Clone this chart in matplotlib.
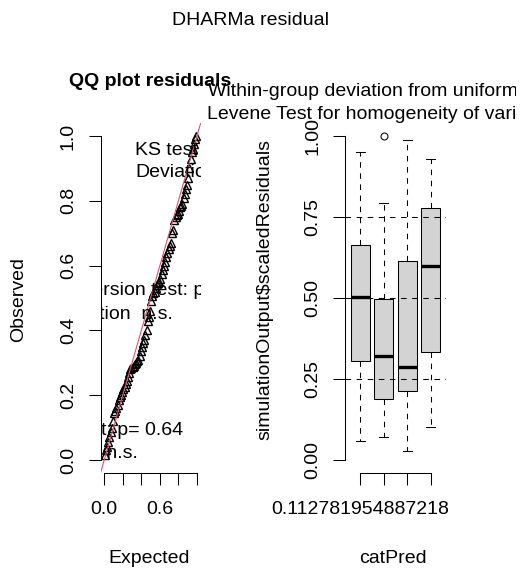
import matplotlib
matplotlib.use('Agg')
import matplotlib.pyplot as plt
import numpy as np
from matplotlib.transforms import Bbox, TransformedBbox

plt.rcParams['font.family'] = ['Liberation Sans', 'DejaVu Sans']
plt.rcParams['lines.scale_dashes'] = False

# ---------------- data ----------------
observed = [0.015, 0.03, 0.04, 0.055, 0.07, 0.085, 0.10, 0.12,
            0.145, 0.15, 0.16, 0.17, 0.185, 0.195, 0.20, 0.21,
            0.22, 0.225, 0.235, 0.245, 0.255, 0.27, 0.28, 0.285,
            0.287, 0.29, 0.295, 0.30, 0.305, 0.31, 0.32, 0.335,
            0.35, 0.36, 0.37, 0.385, 0.40, 0.43, 0.44, 0.46,
            0.49, 0.505, 0.515, 0.52, 0.53, 0.54, 0.545, 0.55,
            0.56, 0.575, 0.585, 0.60, 0.61, 0.625, 0.64, 0.65,
            0.66, 0.67, 0.70, 0.71, 0.74, 0.75, 0.755, 0.76,
            0.77, 0.78, 0.785, 0.79, 0.81, 0.82, 0.835, 0.85,
            0.87, 0.90, 0.93, 0.95, 0.96, 0.975, 0.99, 1.0]

qq_xticks = [0.0, 0.2, 0.4, 0.6, 0.8, 1.0]
qq_xticklabels = ['0.0', '', '', '0.6', '', '']
qq_yticks = [0.0, 0.2, 0.4, 0.6, 0.8, 1.0]
qq_yticklabels = ['0.0', '0.2', '0.4', '0.6', '0.8', '1.0']

categories = ['0.112781954887218', '', '', '']
box_whislo = [0.059, 0.071, 0.028, 0.102]
box_q1 = [0.306, 0.188, 0.213, 0.333]
box_med = [0.503, 0.321, 0.287, 0.599]
box_q3 = [0.664, 0.497, 0.614, 0.778]
box_whishi = [0.951, 0.793, 0.988, 0.929]
box_fliers = [[], [0.999], [], []]
bp_yticks = [0.0, 0.25, 0.5, 0.75, 1.0]
bp_yticklabels = ['0.00', '0.25', '0.50', '0.75', '1.00']
ref_lines = [0.25, 0.5, 0.75]

# ---------------- layout ----------------
W, H = 521, 569
fig = plt.figure(figsize=(W / 100, H / 100), dpi=100)
FS = 14

def fx(px):
    return px / W

def fy(py):
    return 1 - py / H

ax1 = fig.add_axes([fx(100.5), fy(473), 100.2 / W, 350 / H])
ax2 = fig.add_axes([fx(345), fy(473), 101 / W, 350 / H])

for ax in (ax1, ax2):
    for s in ('top', 'right'):
        ax.spines[s].set_visible(False)
    for s in ('left', 'bottom'):
        ax.spines[s].set_linewidth(0.75)
    ax.tick_params(direction='out', length=8.5, width=0.75, labelsize=FS)
    ax.tick_params(axis='y', pad=8.6)
    ax.tick_params(axis='x', pad=12)

# ---------------- QQ plot ----------------
n = len(observed)
expected = (np.arange(1, n + 1) - 0.5) / n
ax1.set_xlim(-0.04, 1.04)
ax1.set_ylim(-0.04, 1.04)
ax1.plot(expected, np.sort(observed), linestyle='none', marker='^', ms=6,
         mfc='none', mec='black', mew=1.0)
ax1.axline((0, 0), slope=1, color='#DF536B', lw=0.8)
ax1.spines['left'].set_bounds(0, 1)
ax1.spines['bottom'].set_bounds(0, 1)
ax1.set_xticks(qq_xticks)
ax1.set_xticklabels(qq_xticklabels)
ax1.set_yticks(qq_yticks)
ax1.set_yticklabels(qq_yticklabels, rotation=90, va='center')

def axtext(ax, px, py, s, ha):
    ax.text(fx(px), fy(py), s, transform=fig.transFigure, ha=ha, va='baseline',
            fontsize=FS, clip_on=True)

axtext(ax1, 135, 155, 'KS test', 'left')
axtext(ax1, 135, 177, 'Deviation', 'left')
axtext(ax1, 204, 295, 'Dispersion test: p', 'right')
axtext(ax1, 173, 319, 'Deviation  n.s.', 'right')
axtext(ax1, 183, 435, 'Outlier test: p= 0.64', 'right')
axtext(ax1, 138, 458, 'Deviation  n.s.', 'right')

# ---------------- box plot ----------------
stats = []
for i in range(len(categories)):
    stats.append(dict(whislo=box_whislo[i], q1=box_q1[i], med=box_med[i],
                      q3=box_q3[i], whishi=box_whishi[i], fliers=box_fliers[i]))
positions = np.arange(1, len(categories) + 1)
ax2.bxp(stats, positions=positions, widths=0.8, patch_artist=True, showfliers=True,
        boxprops=dict(facecolor='#D3D3D3', edgecolor='black', linewidth=0.75),
        medianprops=dict(color='black', linewidth=2.4, solid_capstyle='butt'),
        whiskerprops=dict(color='black', linewidth=0.75, linestyle=(0, (4, 4))),
        capprops=dict(color='black', linewidth=0.75),
        flierprops=dict(marker='o', ms=5, mfc='none', mec='black', mew=0.75))
ax2.set_xlim(0.34, len(categories) + 0.66)
ax2.set_ylim(-0.04, 1.04)
for y in ref_lines:
    ax2.axhline(y, color='black', lw=0.75, linestyle=(0, (4, 4)), zorder=5)
ax2.spines['left'].set_bounds(0, 1)
ax2.spines['bottom'].set_bounds(1, len(categories))
ax2.set_xticks(positions)
ax2.set_xticklabels(categories)
ax2.set_yticks(bp_yticks)
ax2.set_yticklabels(bp_yticklabels, rotation=90, va='center')

# ---------------- titles / labels ----------------
clip = TransformedBbox(Bbox.from_extents(0, 0, 516 / W, 1), fig.transFigure)

def ftext(px, py, s, ha='center', va='baseline', rot=0, weight='normal', clipit=False):
    t = fig.text(fx(px), fy(py), s, ha=ha, va=va, rotation=rot, fontsize=FS,
                 fontweight=weight)
    if clipit:
        t.set_clip_box(clip)
        t.set_clip_on(True)
    return t

ftext(250, 25, 'DHARMa residual')
ftext(150, 86, 'QQ plot residuals', weight='bold')
ftext(208, 96, 'Within-group deviation from uniform n.s.', ha='left', clipit=True)
ftext(207, 119, 'Levene Test for homogeneity of variance n.s.', ha='left', clipit=True)
ftext(149, 563, 'Expected')
ftext(393, 563, 'catPred')
ftext(19, 300, 'Observed', va='center', rot=90)
ftext(265, 290, 'simulationOutput$scaledResiduals', va='center', rot=90)

fig.savefig('out.png', dpi=100)
